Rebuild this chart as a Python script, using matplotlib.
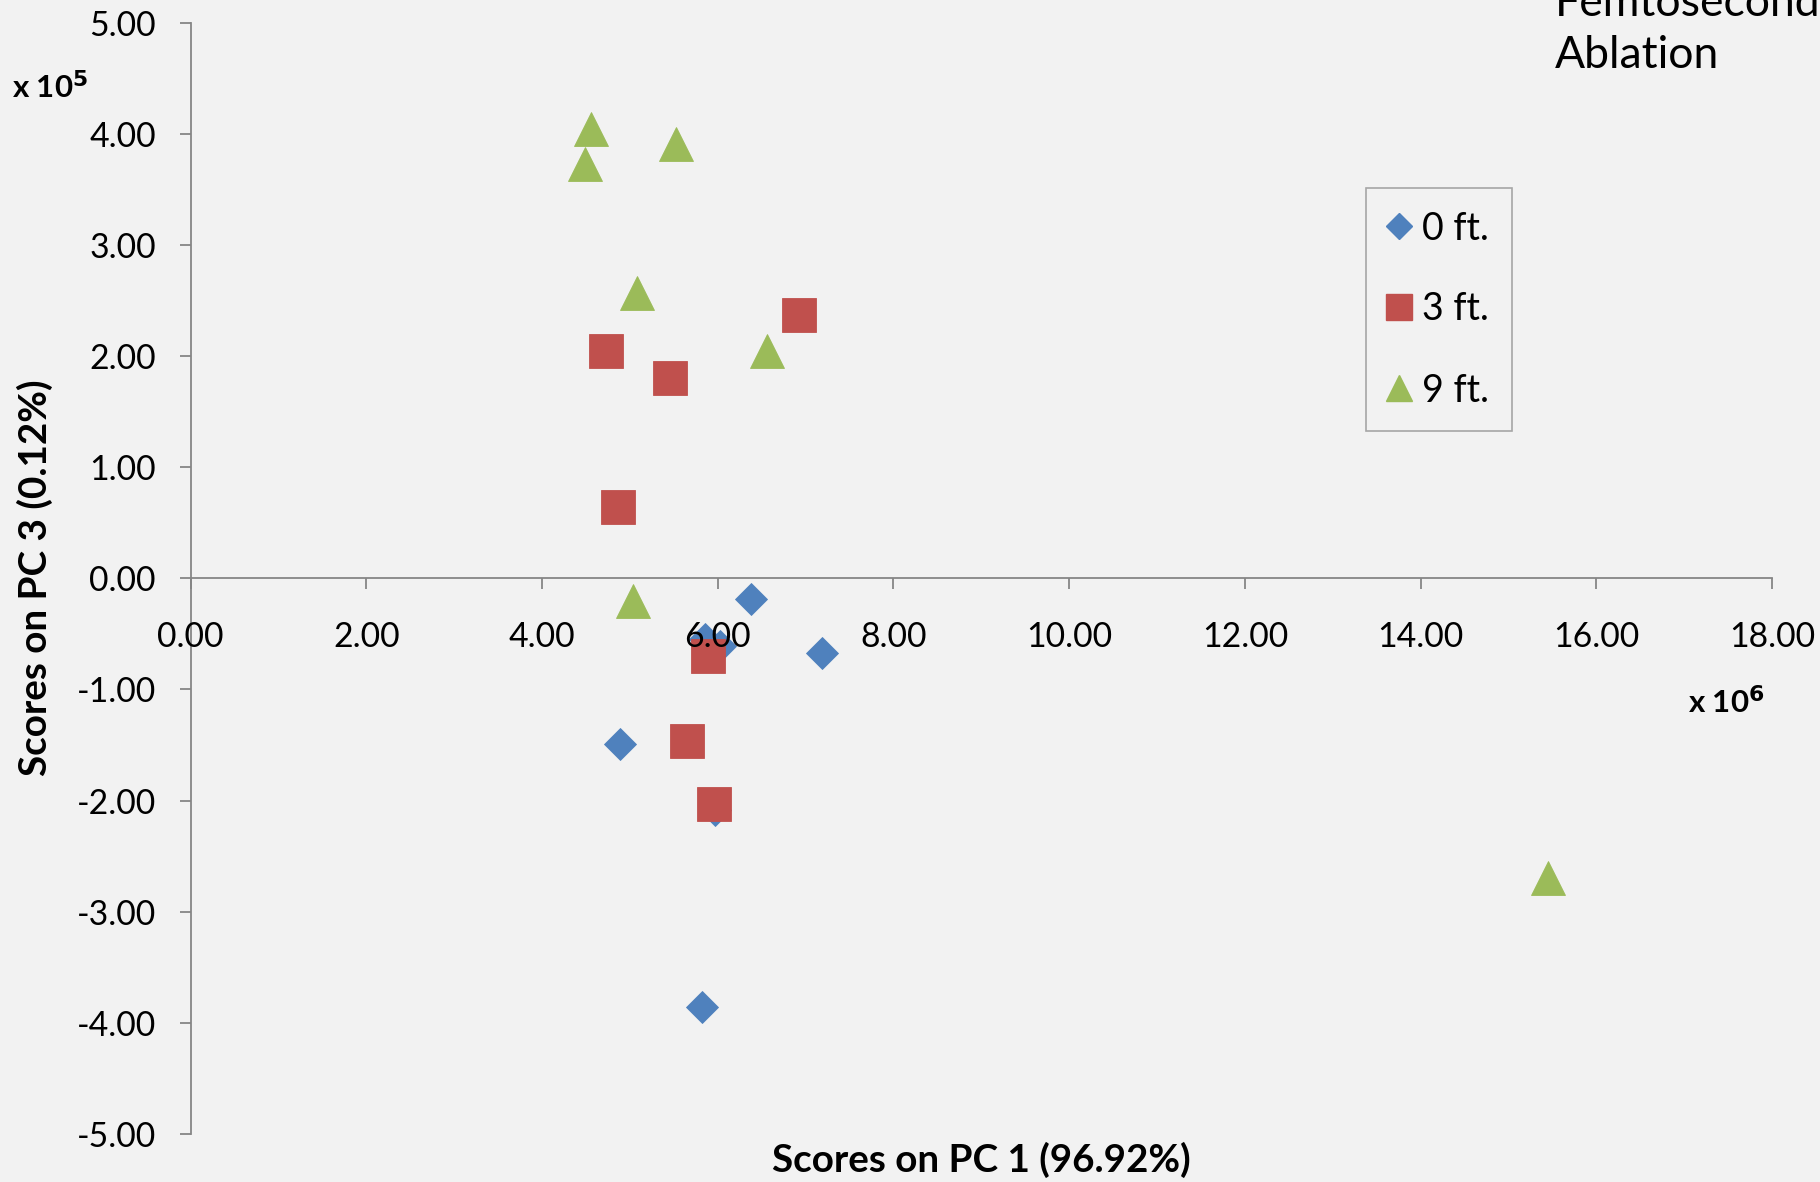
import matplotlib
matplotlib.use("Agg")
import matplotlib.pyplot as plt
from matplotlib.lines import Line2D
from matplotlib.ticker import FormatStrFormatter, MultipleLocator

plt.rcParams["font.family"] = ["Lato", "DejaVu Sans"]
plt.rcParams["axes.unicode_minus"] = False

# PCA scores (PC1 in units of 1e6, PC3 in units of 1e5)
pc1_0ft = [6.38, 7.19, 5.85, 6.03, 4.89, 5.97, 5.82]
pc3_0ft = [-0.19, -0.675, -0.55, -0.61, -1.49, -2.08, -3.86]

pc1_3ft = [6.93, 4.73, 5.46, 4.87, 5.89, 5.65, 5.96]
pc3_3ft = [2.37, 2.05, 1.80, 0.64, -0.70, -1.46, -2.03]

pc1_9ft = [4.56, 4.49, 5.53, 5.08, 6.56, 5.04, 15.45]
pc3_9ft = [4.04, 3.73, 3.91, 2.57, 2.05, -0.20, -2.70]

series_labels = ["0 ft.", "3 ft.", "9 ft."]
colors = ["#4F81BD", "#C0504D", "#9BBB59"]
bg = "#F2F2F2"
axis_gray = "#868686"

W, H = 1820, 1182
fig = plt.figure(figsize=(W / 100, H / 100), dpi=100, facecolor=bg)
left, right = 190.6 / W, 1772 / W
top, bottom = 1 - 22.7 / H, 1 - 1134 / H
ax = fig.add_axes([left, bottom, right - left, top - bottom], facecolor=bg)

ax.plot(pc1_0ft, pc3_0ft, linestyle="None", marker="D", markersize=16.8,
        color=colors[0], markeredgewidth=0.6, markeredgecolor=colors[0], zorder=2)
ax.plot(pc1_3ft, pc3_3ft, linestyle="None", marker="s", markersize=24.3,
        color=colors[1], markeredgewidth=0.6, markeredgecolor=colors[1], zorder=2.05)
ax.plot(pc1_9ft, pc3_9ft, linestyle="None", marker="^", markersize=24.3,
        color=colors[2], markeredgewidth=0.6, markeredgecolor=colors[2], zorder=2.1)

ax.set_xlim(0, 18)
ax.set_ylim(-5, 5)
ax.xaxis.set_major_locator(MultipleLocator(2))
ax.yaxis.set_major_locator(MultipleLocator(1))
ax.xaxis.set_major_formatter(FormatStrFormatter("%.2f"))
ax.yaxis.set_major_formatter(FormatStrFormatter("%.2f"))

for side in ("top", "right"):
    ax.spines[side].set_visible(False)
ax.spines["bottom"].set_position(("data", 0))
ax.spines["left"].set_position(("data", 0))
for side in ("bottom", "left"):
    ax.spines[side].set_color(axis_gray)
    ax.spines[side].set_linewidth(1.3)

ax.tick_params(axis="both", direction="out", length=8, width=1.3,
               color=axis_gray, labelsize=24.3, labelcolor="black")
ax.tick_params(axis="x", pad=23)
ax.tick_params(axis="y", pad=17)
ax.set_axisbelow(False)

# Axis titles and multipliers
fig.text(981 / W, 1 - 1160 / H, "Scores on PC 1 (96.92%)", ha="center", va="center",
         fontsize=27.8, fontweight="bold")
fig.text(35 / W, 1 - 578 / H, "Scores on PC 3 (0.12%)", ha="center", va="center",
         rotation=90, fontsize=27.8, fontweight="bold")
fig.text(12 / W, 1 - 87 / H, r"x 10$^{\mathbf{5}}$", ha="left", va="center",
         fontsize=22.5, fontweight="bold")
fig.text(1688 / W, 1 - 702 / H, r"x 10$^{\mathbf{6}}$", ha="left", va="center",
         fontsize=22.5, fontweight="bold")
fig.text(1555 / W, 1 - 4 / H, "Femtosecond", ha="left", va="center", fontsize=32)
fig.text(1555 / W, 1 - 55 / H, "Ablation", ha="left", va="center", fontsize=32)

handles = [
    Line2D([], [], linestyle="None", marker="D", markersize=13.2, color=colors[0]),
    Line2D([], [], linestyle="None", marker="s", markersize=18.7, color=colors[1]),
    Line2D([], [], linestyle="None", marker="^", markersize=18.7, color=colors[2]),
]
leg = fig.legend(handles, series_labels, loc="upper left",
                 bbox_to_anchor=(1366 / W, 1 - 188 / H), bbox_transform=fig.transFigure,
                 frameon=True, fancybox=False, edgecolor="#A6A6A6", facecolor=bg,
                 framealpha=1, fontsize=27, labelspacing=1.2, handlelength=0.55,
                 handletextpad=0.35, borderpad=0.6, borderaxespad=0)
leg.get_frame().set_linewidth(1.2)

fig.savefig("out.png", dpi=100, facecolor=bg)
